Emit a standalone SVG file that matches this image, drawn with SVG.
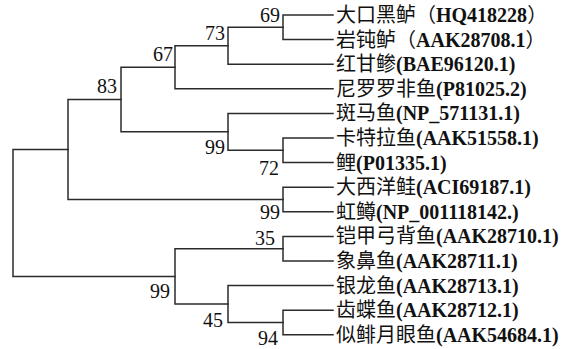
<svg xmlns="http://www.w3.org/2000/svg" width="565" height="349" viewBox="0 0 565 349">
<style>
.br{fill:none;stroke:#2b2b2b;stroke-width:1.5;stroke-linecap:square}
.lb{font-family:"Liberation Serif","Noto Sans CJK SC",serif;font-size:20px;fill:#111}
.lb tspan{font-weight:bold}
.bs{font-family:"Liberation Serif",serif;font-size:20px;fill:#111;text-anchor:end}
</style>
<rect width="565" height="349" fill="#fff"/>
<g id="connectors" class="br">
<path d="M13,149.5V276.4M13,149.5H68M13,276.4H175"/>
<path d="M68,99.6V199.5M68,99.6H121M68,199.5H283"/>
<path d="M121,67.3V131.85M121,67.3H175M121,131.85H228"/>
<path d="M175,45.75V88.8M175,45.75H228M175,88.8H333"/>
<path d="M228,27.3V64.2M228,27.3H283M228,64.2H333"/>
<path d="M283,15V39.6M283,15H333M283,39.6H333"/>
<path d="M228,113.4V150.3M228,113.4H333M228,150.3H283"/>
<path d="M283,138V162.6M283,138H333M283,162.6H333"/>
<path d="M283,187.2V211.8M283,187.2H333M283,211.8H333"/>
<path d="M175,248.7V304M175,248.7H283M175,304H228"/>
<path d="M283,236.4V261M283,236.4H333M283,261H333"/>
<path d="M228,285.6V322.5M228,285.6H333M228,322.5H283"/>
<path d="M283,310.2V334.8M283,310.2H333M283,334.8H333"/>
</g>
<g id="bootstrap">
<text class="bs" x="280" y="22">69</text>
<text class="bs" x="225" y="40">73</text>
<text class="bs" x="173" y="61">67</text>
<text class="bs" x="117" y="93">83</text>
<text class="bs" x="225" y="154">99</text>
<text class="bs" x="279" y="175">72</text>
<text class="bs" x="280" y="219">99</text>
<text class="bs" x="275" y="245">35</text>
<text class="bs" x="170" y="298">99</text>
<text class="bs" x="223" y="327">45</text>
<text class="bs" x="278" y="345">94</text>
</g>
<g id="leaf1"><text class="lb" x="336" y="22">大口黑鲈（<tspan>HQ418228</tspan>）</text></g>
<g id="leaf2"><text class="lb" x="336" y="46.6">岩钝鲈（<tspan>AAK28708.1</tspan>）</text></g>
<g id="leaf3"><text class="lb" x="336" y="71.2">红甘鲹<tspan>(BAE96120.1)</tspan></text></g>
<g id="leaf4"><text class="lb" x="336" y="95.8">尼罗罗非鱼<tspan>(P81025.2)</tspan></text></g>
<g id="leaf5"><text class="lb" x="336" y="120.4">斑马鱼<tspan>(NP_571131.1)</tspan></text></g>
<g id="leaf6"><text class="lb" x="336" y="145">卡特拉鱼<tspan>(AAK51558.1)</tspan></text></g>
<g id="leaf7"><text class="lb" x="336" y="169.6">鲤<tspan>(P01335.1)</tspan></text></g>
<g id="leaf8"><text class="lb" x="336" y="194.2">大西洋鲑<tspan>(ACI69187.1)</tspan></text></g>
<g id="leaf9"><text class="lb" x="336" y="218.8">虹鳟<tspan>(NP_001118142.)</tspan></text></g>
<g id="leaf10"><text class="lb" x="336" y="243.4">铠甲弓背鱼<tspan>(AAK28710.1)</tspan></text></g>
<g id="leaf11"><text class="lb" x="336" y="268">象鼻鱼<tspan>(AAK28711.1)</tspan></text></g>
<g id="leaf12"><text class="lb" x="336" y="292.6">银龙鱼<tspan>(AAK28713.1)</tspan></text></g>
<g id="leaf13"><text class="lb" x="336" y="317.2">齿蝶鱼<tspan>(AAK28712.1)</tspan></text></g>
<g id="leaf14"><text class="lb" x="336" y="341.8">似鲱月眼鱼<tspan>(AAK54684.1)</tspan></text></g>
</svg>
